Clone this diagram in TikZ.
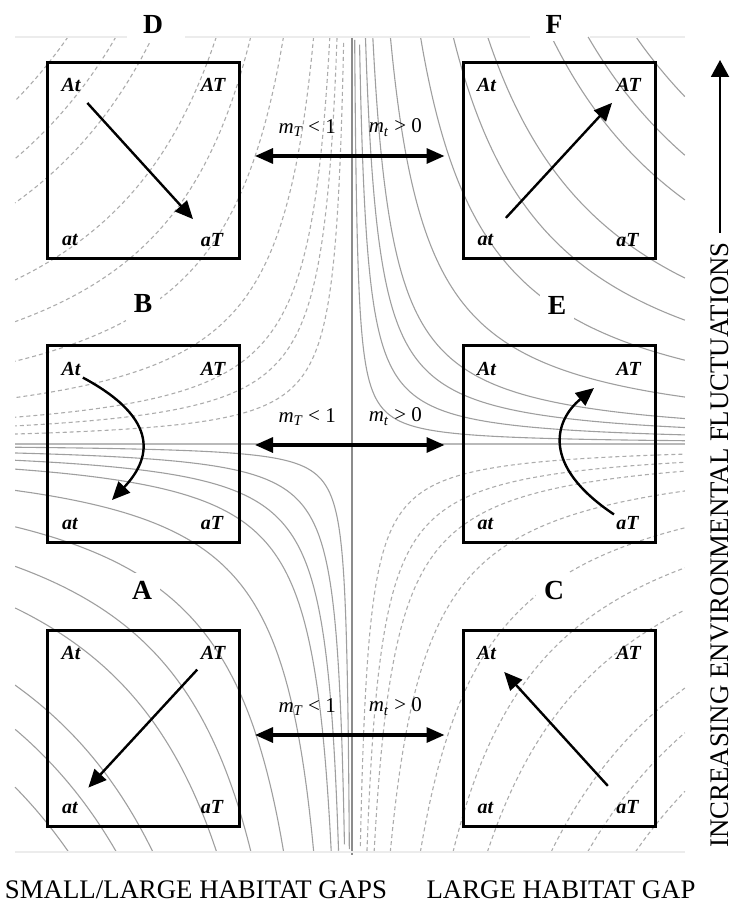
\documentclass[tikz,border=0pt]{standalone}
\usepackage{fontspec}
\setmainfont{Liberation Serif}
\usetikzlibrary{arrows.meta}

\tikzset{
  panel/.style={draw, line width=1.5pt, minimum width=96pt, minimum height=98pt, inner sep=0pt},
  corner/.style={font=\fontsize{10}{12}\selectfont\bfseries\itshape, inner sep=1pt},
  letter/.style={font=\fontsize{13.8}{16}\selectfont\bfseries, fill=white, inner sep=4pt},
  flow/.style={line width=1.2pt, -{Triangle[length=9pt,width=8pt]}},
  gap/.style={line width=1.6pt, {Triangle[length=9pt,width=7.5pt]}-{Triangle[length=9pt,width=7.5pt]}},
  rate/.style={font=\fontsize{10.5}{12}\selectfont, inner sep=0pt},
  contour/.style={gray!75, line width=0.55pt},
  contourdash/.style={gray!65, line width=0.55pt, dash pattern=on 2pt off 1.5pt},
  border/.style={gray!15, line width=0.8pt},
  caption/.style={font=\fontsize{13.4}{16}\selectfont, inner sep=0pt}
}

\begin{document}
\begin{tikzpicture}[x=0.5pt, y=-0.5pt]
\useasboundingbox (0,0) rectangle (733,908);

% level curves u*v = r^2 around the centre (352,444)
\foreach \sx/\sy/\um/\vm in {1/-1/333/407, -1/1/337/408}{
  \foreach \rad in {33,55,74,92,125,167,203,235,285,310,340}{
    \pgfmathsetmacro\tlo{ln(\rad/\vm)}
    \pgfmathsetmacro\thi{ln(\um/\rad)}
    \draw[contour] plot[domain=\tlo:\thi, samples=40, smooth]
      ({352+(\sx)*\rad*exp(\x)}, {444+(\sy)*\rad*exp(-(\x))});
  }
}
\foreach \sx/\sy/\um/\vm in {-1/-1/337/407, 1/1/333/408}{
  \foreach \rad in {58,78,95,125,167,203,235,285,310,340}{
    \pgfmathsetmacro\tlo{ln(\rad/\vm)}
    \pgfmathsetmacro\thi{ln(\um/\rad)}
    \draw[contourdash] plot[domain=\tlo:\thi, samples=40, smooth]
      ({352+(\sx)*\rad*exp(\x)}, {444+(\sy)*\rad*exp(-(\x))});
  }
}

\draw[gray!55, line width=1.3pt] (15,444) -- (685,444);
\draw[gray!90, line width=0.6pt] (352,37) -- (352,855);
\draw[border] (15,37) -- (127,37) (185,37) -- (530,37) (590,37) -- (685,37);
\draw[border] (15,852) -- (685,852);

\foreach \name/\cx/\cy/\lx/\ly in {D/143.5/160.5/153/24, F/559/160.5/554/24,
    B/143.5/444/143/304, E/559/444/557/305, A/143.5/728/142/590, C/559/728/554/590}{
  \node[panel] (box\name) at (\cx,\cy) {};
  \node[corner] (\name-At) at ([shift={(25,24)}]box\name.north west) {At};
  \node[corner] (\name-AT) at ([shift={(-28,24)}]box\name.north east) {AT};
  \node[corner] (\name-at) at ([shift={(24,-20)}]box\name.south west) {at};
  \node[corner] (\name-aT) at ([shift={(-29,-20)}]box\name.south east) {aT};
  \node[letter] (lab\name) at (\lx,\ly) {\name};
}

\draw[flow, shorten <=6pt, shorten >=8pt] (D-At) -- (D-aT);
\draw[flow, shorten <=9.5pt, shorten >=6pt] (F-at) -- (F-AT);
\draw[flow, shorten <=5.5pt, shorten >=8pt] (A-AT) -- (A-at);
\draw[flow, shorten <=8.5pt, shorten >=7pt] (C-aT) -- (C-At);

\coordinate (B-tip) at (112,500);
\coordinate (E-tip) at (594,388);
\draw[flow] (B-At.south east) .. controls (162,420) and (150,460) .. (B-tip);
\draw[flow] (E-aT.north west) .. controls (540,465) and (555,420) .. (E-tip);

\draw[gap, shorten <=7pt, shorten >=8.5pt] ([yshift=2.25pt]boxD.east) --
  node[rate, pos=0.3, above=9pt] {{\itshape m}\textsubscript{\itshape T} < 1}
  node[rate, pos=0.7, above=9pt] {{\itshape m}\textsubscript{\itshape t} > 0} ([yshift=2.25pt]boxF.west);
\draw[gap, shorten <=7pt, shorten >=8.5pt] ([yshift=-0.5pt]boxB.east) --
  node[rate, pos=0.3, above=9pt] {{\itshape m}\textsubscript{\itshape T} < 1}
  node[rate, pos=0.7, above=9pt] {{\itshape m}\textsubscript{\itshape t} > 0} ([yshift=-0.5pt]boxE.west);
\draw[gap, shorten <=7pt, shorten >=8.5pt] ([yshift=-3.5pt]boxA.east) --
  node[rate, pos=0.3, above=9pt] {{\itshape m}\textsubscript{\itshape T} < 1}
  node[rate, pos=0.7, above=9pt] {{\itshape m}\textsubscript{\itshape t} > 0} ([yshift=-3.5pt]boxC.west);

\node[caption] (gapSmall) at (196,890) {SMALL/LARGE HABITAT GAPS};
\node[caption] (gapLarge) at (561,890) {LARGE HABITAT GAP};
\node[caption, rotate=90] (fluct) at (720,545) {INCREASING ENVIRONMENTAL FLUCTUATIONS};
\coordinate (fluctTip) at (720,60);
\draw[line width=1pt, -{Triangle[length=8.5pt,width=9pt]}, shorten <=4.5pt] (fluct.east) -- (fluctTip);
\end{tikzpicture}
\end{document}
